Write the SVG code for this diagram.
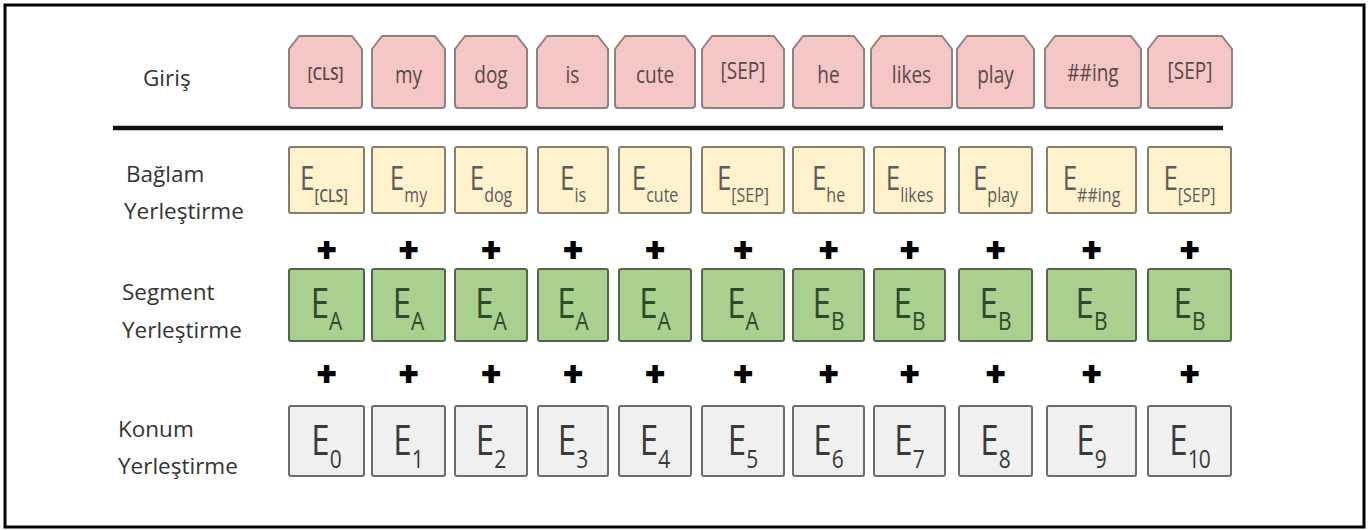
<svg xmlns="http://www.w3.org/2000/svg" width="1371" height="530" viewBox="0 0 1371 530">
<style>
.frame{fill:#fff;stroke:#000;stroke-width:3}
.inp{fill:#f4c6c6;stroke:#8d8282;stroke-width:2;stroke-linejoin:round}
.tok{fill:#fff2cc;stroke:#85806a;stroke-width:2}
.seg{fill:#a9d08e;stroke:#55644f;stroke-width:2}
.pos{fill:#f0f0f0;stroke:#6c6c6c;stroke-width:2}
.lbl{font-family:"Open Sans","Noto Sans",sans-serif;font-size:22.5px;fill:#333}
.it{font-family:"Open Sans","Noto Sans",sans-serif;font-size:19px;fill:#5a4848;text-anchor:middle}
.itc{font-family:"Open Sans","Noto Sans",sans-serif;font-size:14px;font-weight:600;fill:#5a4848;text-anchor:middle}
.et{font-family:"Open Sans","Noto Sans",sans-serif;font-size:26px;fill:#5c5c5c;text-anchor:middle}
.ets{font-size:16px}
.etc{font-size:14px;font-weight:600}
.gt{font-family:"Open Sans","Noto Sans",sans-serif;font-size:33px;fill:#2f4a2d;text-anchor:middle}
.gts{font-size:21px}
.pt{font-family:"Open Sans","Noto Sans",sans-serif;font-size:33px;fill:#3a3a3a;text-anchor:middle}
.pts{font-size:21px}
.plus{font-family:"Liberation Sans",Arial,sans-serif;font-size:32px;font-weight:bold;fill:#000;stroke:#000;stroke-width:1.8;text-anchor:middle}
</style>
<rect class="frame" x="5" y="5" width="1359" height="522"/>

<g id="labels">
<text class="lbl" x="143" y="86">Giriş</text>
<text class="lbl" x="126" y="182">Bağlam</text>
<text class="lbl" x="124" y="219">Yerleştirme</text>
<text class="lbl" x="122" y="300">Segment</text>
<text class="lbl" x="122" y="338">Yerleştirme</text>
<text class="lbl" x="118" y="437">Konum</text>
<text class="lbl" x="118" y="474">Yerleştirme</text>
</g>

<g id="divider"><line x1="113" y1="128" x2="1223" y2="128" stroke="#111" stroke-width="4.5"/></g>

<!-- Input row -->
<g id="in-0"><path class="inp" d="M292,108 Q289,108 289,105 L289,49 L299,36 L352,36 L362,49 L362,105 Q362,108 359,108 Z"/><text class="itc" transform="translate(325.5,80) scale(1,1.25)" textLength="36" lengthAdjust="spacingAndGlyphs">[CLS]</text></g>
<g id="in-1"><path class="inp" d="M375,108 Q372,108 372,105 L372,49 L382,36 L435,36 L445,49 L445,105 Q445,108 442,108 Z"/><text class="it" transform="translate(408.5,83) scale(1,1.25)">my</text></g>
<g id="in-2"><path class="inp" d="M458,108 Q455,108 455,105 L455,49 L465,36 L517,36 L527,49 L527,105 Q527,108 524,108 Z"/><text class="it" transform="translate(491,83) scale(1,1.25)">dog</text></g>
<g id="in-3"><path class="inp" d="M540,108 Q537,108 537,105 L537,49 L547,36 L598,36 L608,49 L608,105 Q608,108 605,108 Z"/><text class="it" transform="translate(572.5,83) scale(1,1.25)">is</text></g>
<g id="in-4"><path class="inp" d="M618,108 Q615,108 615,105 L615,49 L625,36 L685,36 L695,49 L695,105 Q695,108 692,108 Z"/><text class="it" transform="translate(655,83) scale(1,1.25)">cute</text></g>
<g id="in-5"><path class="inp" d="M705,108 Q702,108 702,105 L702,49 L712,36 L774,36 L784,49 L784,105 Q784,108 781,108 Z"/><text class="it" transform="translate(743,79) scale(1,1.25)">[SEP]</text></g>
<g id="in-6"><path class="inp" d="M796,108 Q793,108 793,105 L793,49 L803,36 L854,36 L864,49 L864,105 Q864,108 861,108 Z"/><text class="it" transform="translate(828.5,83) scale(1,1.25)">he</text></g>
<g id="in-7"><path class="inp" d="M874,108 Q871,108 871,105 L871,49 L881,36 L942,36 L952,49 L952,105 Q952,108 949,108 Z"/><text class="it" transform="translate(911.5,83) scale(1,1.25)">likes</text></g>
<g id="in-8"><path class="inp" d="M960,108 Q957,108 957,105 L957,49 L967,36 L1024,36 L1034,49 L1034,105 Q1034,108 1031,108 Z"/><text class="it" transform="translate(995.5,83) scale(1,1.25)">play</text></g>
<g id="in-9"><path class="inp" d="M1048,108 Q1045,108 1045,105 L1045,49 L1055,36 L1131,36 L1141,49 L1141,105 Q1141,108 1138,108 Z"/><text class="it" transform="translate(1093,81) scale(1,1.25)">##ing</text></g>
<g id="in-10"><path class="inp" d="M1151,108 Q1148,108 1148,105 L1148,49 L1158,36 L1222,36 L1232,49 L1232,105 Q1232,108 1229,108 Z"/><text class="it" transform="translate(1190,79) scale(1,1.25)">[SEP]</text></g>

<!-- Token embeddings -->
<g id="tok-0"><rect class="tok" x="289" y="147" width="75" height="66" rx="2"/><text class="et" transform="translate(324,190) scale(1,1.25)">E<tspan class="etc" dy="9.6">[CLS]</tspan></text></g>
<g id="tok-1"><rect class="tok" x="372" y="147" width="73" height="66" rx="2"/><text class="et" transform="translate(408.5,190) scale(1,1.25)">E<tspan class="ets" dy="9.6">my</tspan></text></g>
<g id="tok-2"><rect class="tok" x="455" y="147" width="72" height="66" rx="2"/><text class="et" transform="translate(491,190) scale(1,1.25)">E<tspan class="ets" dy="9.6">dog</tspan></text></g>
<g id="tok-3"><rect class="tok" x="538" y="147" width="70" height="66" rx="2"/><text class="et" transform="translate(573,190) scale(1,1.25)">E<tspan class="ets" dy="9.6">is</tspan></text></g>
<g id="tok-4"><rect class="tok" x="619" y="147" width="72" height="66" rx="2"/><text class="et" transform="translate(655,190) scale(1,1.25)">E<tspan class="ets" dy="9.6">cute</tspan></text></g>
<g id="tok-5"><rect class="tok" x="702" y="147" width="82" height="66" rx="2"/><text class="et" transform="translate(743,190) scale(1,1.25)">E<tspan class="ets" dy="9.6">[SEP]</tspan></text></g>
<g id="tok-6"><rect class="tok" x="793" y="147" width="71" height="66" rx="2"/><text class="et" transform="translate(828.5,190) scale(1,1.25)">E<tspan class="ets" dy="9.6">he</tspan></text></g>
<g id="tok-7"><rect class="tok" x="874" y="147" width="71" height="66" rx="2"/><text class="et" transform="translate(909.5,190) scale(1,1.25)">E<tspan class="ets" dy="9.6">likes</tspan></text></g>
<g id="tok-8"><rect class="tok" x="959" y="147" width="73" height="66" rx="2"/><text class="et" transform="translate(995.5,190) scale(1,1.25)">E<tspan class="ets" dy="9.6">play</tspan></text></g>
<g id="tok-9"><rect class="tok" x="1047" y="147" width="89" height="66" rx="2"/><text class="et" transform="translate(1091.5,190) scale(1,1.25)">E<tspan class="ets" dy="9.6">##ing</tspan></text></g>
<g id="tok-10"><rect class="tok" x="1148" y="147" width="83" height="66" rx="2"/><text class="et" transform="translate(1189.5,190) scale(1,1.25)">E<tspan class="ets" dy="9.6">[SEP]</tspan></text></g>

<!-- Segment embeddings -->
<g id="seg-0"><rect class="seg" x="289" y="269" width="75" height="72" rx="2"/><text class="gt" transform="translate(326.5,318) scale(1,1.25)">E<tspan class="gts" dy="9.6">A</tspan></text></g>
<g id="seg-1"><rect class="seg" x="372" y="269" width="73" height="72" rx="2"/><text class="gt" transform="translate(408.5,318) scale(1,1.25)">E<tspan class="gts" dy="9.6">A</tspan></text></g>
<g id="seg-2"><rect class="seg" x="455" y="269" width="72" height="72" rx="2"/><text class="gt" transform="translate(491,318) scale(1,1.25)">E<tspan class="gts" dy="9.6">A</tspan></text></g>
<g id="seg-3"><rect class="seg" x="538" y="269" width="70" height="72" rx="2"/><text class="gt" transform="translate(573,318) scale(1,1.25)">E<tspan class="gts" dy="9.6">A</tspan></text></g>
<g id="seg-4"><rect class="seg" x="619" y="269" width="72" height="72" rx="2"/><text class="gt" transform="translate(655,318) scale(1,1.25)">E<tspan class="gts" dy="9.6">A</tspan></text></g>
<g id="seg-5"><rect class="seg" x="702" y="269" width="82" height="72" rx="2"/><text class="gt" transform="translate(743,318) scale(1,1.25)">E<tspan class="gts" dy="9.6">A</tspan></text></g>
<g id="seg-6"><rect class="seg" x="793" y="269" width="71" height="72" rx="2"/><text class="gt" transform="translate(828.5,318) scale(1,1.25)">E<tspan class="gts" dy="9.6">B</tspan></text></g>
<g id="seg-7"><rect class="seg" x="874" y="269" width="71" height="72" rx="2"/><text class="gt" transform="translate(909.5,318) scale(1,1.25)">E<tspan class="gts" dy="9.6">B</tspan></text></g>
<g id="seg-8"><rect class="seg" x="959" y="269" width="73" height="72" rx="2"/><text class="gt" transform="translate(995.5,318) scale(1,1.25)">E<tspan class="gts" dy="9.6">B</tspan></text></g>
<g id="seg-9"><rect class="seg" x="1047" y="269" width="89" height="72" rx="2"/><text class="gt" transform="translate(1091.5,318) scale(1,1.25)">E<tspan class="gts" dy="9.6">B</tspan></text></g>
<g id="seg-10"><rect class="seg" x="1148" y="269" width="83" height="72" rx="2"/><text class="gt" transform="translate(1189.5,318) scale(1,1.25)">E<tspan class="gts" dy="9.6">B</tspan></text></g>

<!-- Position embeddings -->
<g id="pos-0"><rect class="pos" x="289" y="406" width="75" height="70" rx="2"/><text class="pt" transform="translate(326.5,455) scale(1,1.25)">E<tspan class="pts" dy="10.4">0</tspan></text></g>
<g id="pos-1"><rect class="pos" x="372" y="406" width="73" height="70" rx="2"/><text class="pt" transform="translate(408.5,455) scale(1,1.25)">E<tspan class="pts" dy="10.4">1</tspan></text></g>
<g id="pos-2"><rect class="pos" x="455" y="406" width="72" height="70" rx="2"/><text class="pt" transform="translate(491,455) scale(1,1.25)">E<tspan class="pts" dy="10.4">2</tspan></text></g>
<g id="pos-3"><rect class="pos" x="538" y="406" width="70" height="70" rx="2"/><text class="pt" transform="translate(573,455) scale(1,1.25)">E<tspan class="pts" dy="10.4">3</tspan></text></g>
<g id="pos-4"><rect class="pos" x="619" y="406" width="72" height="70" rx="2"/><text class="pt" transform="translate(655,455) scale(1,1.25)">E<tspan class="pts" dy="10.4">4</tspan></text></g>
<g id="pos-5"><rect class="pos" x="702" y="406" width="82" height="70" rx="2"/><text class="pt" transform="translate(743,455) scale(1,1.25)">E<tspan class="pts" dy="10.4">5</tspan></text></g>
<g id="pos-6"><rect class="pos" x="793" y="406" width="71" height="70" rx="2"/><text class="pt" transform="translate(828.5,455) scale(1,1.25)">E<tspan class="pts" dy="10.4">6</tspan></text></g>
<g id="pos-7"><rect class="pos" x="874" y="406" width="71" height="70" rx="2"/><text class="pt" transform="translate(909.5,455) scale(1,1.25)">E<tspan class="pts" dy="10.4">7</tspan></text></g>
<g id="pos-8"><rect class="pos" x="959" y="406" width="73" height="70" rx="2"/><text class="pt" transform="translate(995.5,455) scale(1,1.25)">E<tspan class="pts" dy="10.4">8</tspan></text></g>
<g id="pos-9"><rect class="pos" x="1047" y="406" width="89" height="70" rx="2"/><text class="pt" transform="translate(1091.5,455) scale(1,1.25)">E<tspan class="pts" dy="10.4">9</tspan></text></g>
<g id="pos-10"><rect class="pos" x="1148" y="406" width="83" height="70" rx="2"/><text class="pt" transform="translate(1189.5,455) scale(1,1.25)">E<tspan class="pts" dy="10.4" letter-spacing="-1">10</tspan></text></g>

<!-- Plus operators -->
<g id="connectors">
<text class="plus" x="326.5" y="260">+</text><text class="plus" x="408.5" y="260">+</text><text class="plus" x="491" y="260">+</text><text class="plus" x="573" y="260">+</text><text class="plus" x="655" y="260">+</text><text class="plus" x="743" y="260">+</text><text class="plus" x="828.5" y="260">+</text><text class="plus" x="909.5" y="260">+</text><text class="plus" x="995.5" y="260">+</text><text class="plus" x="1091.5" y="260">+</text><text class="plus" x="1189.5" y="260">+</text>
<text class="plus" x="326.5" y="384">+</text><text class="plus" x="408.5" y="384">+</text><text class="plus" x="491" y="384">+</text><text class="plus" x="573" y="384">+</text><text class="plus" x="655" y="384">+</text><text class="plus" x="743" y="384">+</text><text class="plus" x="828.5" y="384">+</text><text class="plus" x="909.5" y="384">+</text><text class="plus" x="995.5" y="384">+</text><text class="plus" x="1091.5" y="384">+</text><text class="plus" x="1189.5" y="384">+</text>
</g>
</svg>
